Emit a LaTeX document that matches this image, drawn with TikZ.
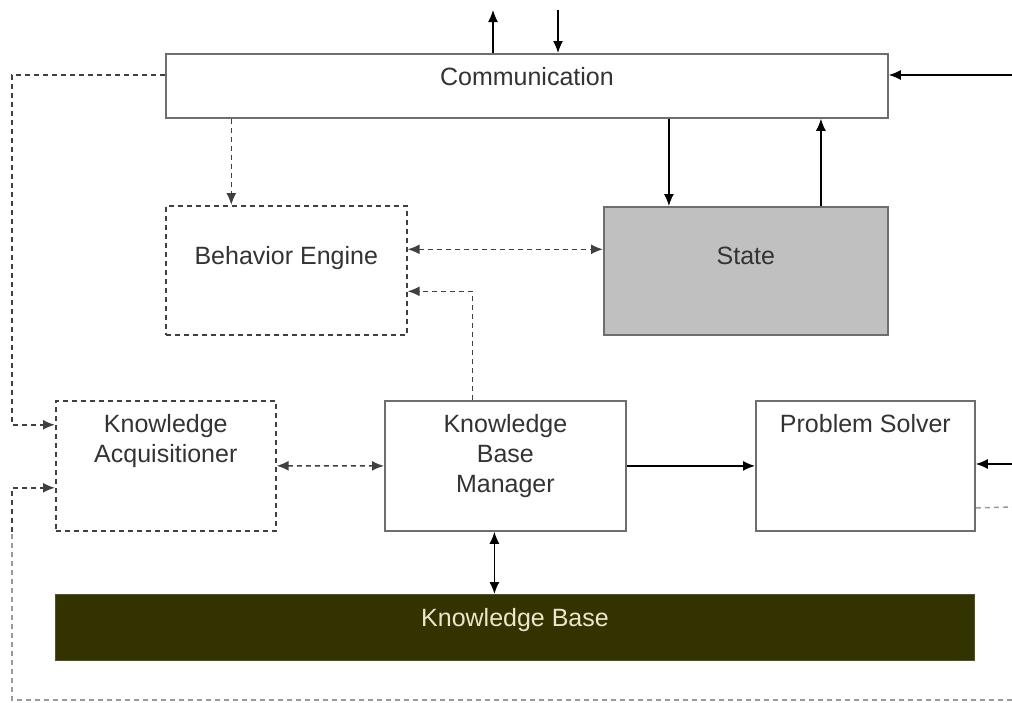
\documentclass[tikz,border=0pt]{standalone}
\usepackage{fontspec}
\setmainfont{Liberation Sans}
\usetikzlibrary{arrows.meta,calc}
\definecolor{ksline}{HTML}{6E6E6E}
\definecolor{ksdash}{HTML}{404040}
\definecolor{kslight}{HTML}{9A9A9A}
\definecolor{kstext}{HTML}{333333}
\definecolor{ksstate}{HTML}{C0C0C0}
\definecolor{ksbase}{HTML}{333300}
\definecolor{ksbasetxt}{HTML}{EAE6CC}
\tikzset{
  blk/.style={draw=ksline,line width=1.8pt,fill=white,rectangle,inner sep=0pt,anchor=north west},
  dblk/.style={draw=ksdash,line width=1.6pt,dash pattern=on 5pt off 4pt,rectangle,inner sep=0pt,anchor=north west},
  boxlbl/.style={anchor=north,inner sep=0pt,yshift=-14pt,align=center,text=kstext,
              font=\fontsize{25}{30}\selectfont},
  ar/.style={-{Latex[length=12pt,width=10pt]},line width=1.3pt,black},
  bar/.style={{Latex[length=12pt,width=10pt]}-{Latex[length=12pt,width=10pt]},line width=1.3pt,black},
  dar/.style={-{Latex[length=12pt,width=10pt]},line width=1.6pt,ksdash,dash pattern=on 5pt off 4pt},
  dbar/.style={{Latex[length=12pt,width=10pt]}-{Latex[length=12pt,width=10pt]},line width=1.6pt,ksdash,dash pattern=on 5pt off 4pt},
  dln/.style={line width=1.4pt,kslight,dash pattern=on 5pt off 4pt},
}
\begin{document}
\begin{tikzpicture}[x=1pt,y=-1pt]
  \useasboundingbox (0,0) rectangle (1012,702);
  % boxes
  \node[blk,minimum width=722pt,minimum height=64pt,label={[boxlbl]north:Communication}] (comm) at (165,53) {};
  \node[dblk,minimum width=241pt,minimum height=129pt,label={[boxlbl,yshift=-27pt]north:Behavior Engine}] (beh) at (165,205) {};
  \node[blk,fill=ksstate,minimum width=284pt,minimum height=128pt,label={[boxlbl,yshift=-27pt]north:State}] (state) at (603,206) {};
  \node[dblk,minimum width=220pt,minimum height=130pt,label={[boxlbl]north:Knowledge\\Acquisitioner}] (ka) at (55,400) {};
  \node[blk,minimum width=241pt,minimum height=130pt,label={[boxlbl]north:Knowledge\\Base\\Manager}] (kbm) at (384,400) {};
  \node[blk,minimum width=219pt,minimum height=130pt,label={[boxlbl]north:Problem Solver}] (ps) at (755,400) {};
  \node[blk,draw=ksbase!60!gray,line width=1pt,fill=ksbase,minimum width=919pt,minimum height=66pt,
        label={[boxlbl,text=ksbasetxt]north:Knowledge Base}] (kb) at (55,594) {};
  % free ends
  \coordinate (outup) at (493,10);
  \coordinate (inup) at (558,10);
  \coordinate (inright) at (1012,75);
  \coordinate (psin) at (1012,464);
  \coordinate (psout) at (1012,507);
  \coordinate (botin) at (1012,700);
  \coordinate (topcorner) at (12,75);
  \coordinate (botcorner) at (12,700);
  % links
  \draw[ar] (outup |- comm.north) -- (outup);
  \draw[ar] (inup) -- (inup |- comm.north);
  \draw[ar] (inright) -- (inright -| comm.east);
  \draw[dar] (topcorner -| comm.west) -- (topcorner) |- ([yshift=41pt]ka.west);
  \draw[dar] ([xshift=-55pt]beh.north |- comm.south) -- ([xshift=-55pt]beh.north);
  \draw[ar] ([xshift=-77pt]state.north |- comm.south) -- ([xshift=-77pt]state.north);
  \draw[ar] ([xshift=75pt]state.north) -- ([xshift=75pt]state.north |- comm.south);
  \draw[dbar] ([yshift=21pt]beh.east) -- ([yshift=21pt]beh.east -| state.west);
  \draw[dar] ([xshift=-33pt]kbm.north) |- ([yshift=-21pt]beh.east);
  \draw[dbar] (ka.east) -- (kbm.west);
  \draw[ar] (kbm.east) -- (ps.west);
  \draw[ar] (psin) -- (psin -| ps.east);
  \draw[dln] ([yshift=-42pt]ps.east) -- (psout);
  \draw[bar] ([xshift=-11pt]kbm.south) -- ([xshift=-11pt]kbm.south |- kb.north);
  \draw[dln] (botin) -- (botcorner) -- (botcorner |- ka.south);
  \draw[dar] (botcorner |- ka.south) |- ([yshift=-22pt]ka.west);
\end{tikzpicture}
\end{document}
